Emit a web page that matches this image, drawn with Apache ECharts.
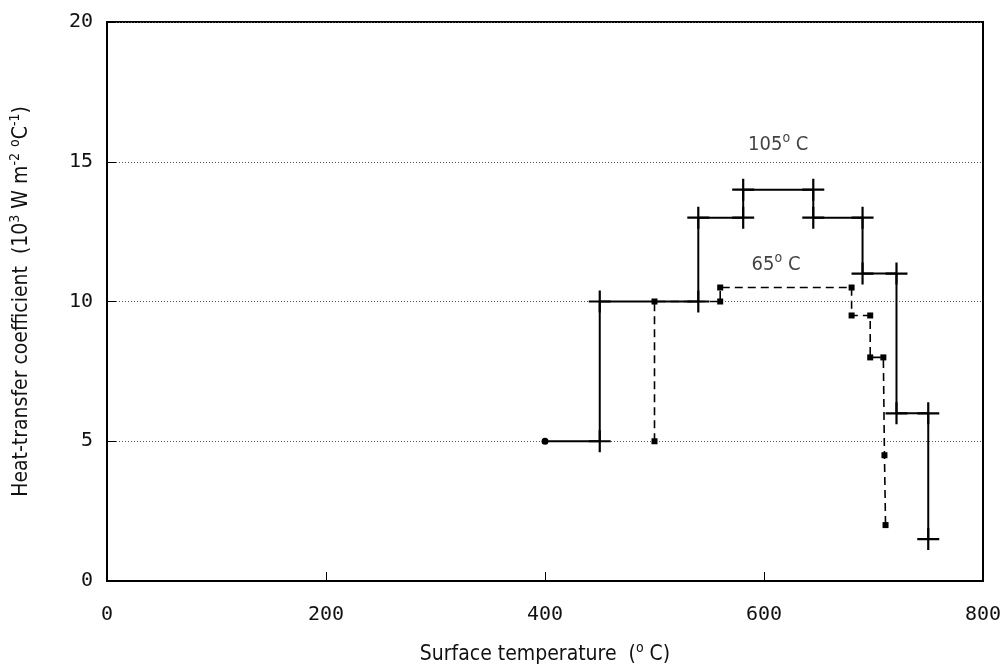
<!DOCTYPE html>
<html>
<head>
<meta charset="utf-8">
<script src="https://cdn.jsdelivr.net/npm/echarts@6/dist/echarts.min.js"></script>
<style>
  html, body { margin: 0; padding: 0; background: #fff; }
  #chart { width: 1006px; height: 670px; }
</style>
</head>
<body>
<div id="chart"></div>
<script>
// 105 C run: step curve, [surface temperature, coefficient]
const run105 = [
  [400, 5], [450, 5], [450, 10], [540, 10], [540, 13], [581, 13], [581, 14],
  [645, 14], [645, 13], [690, 13], [690, 11], [721, 11], [721, 6], [750, 6], [750, 1.5]
]
// 65 C run: dashed step curve
const run65 = [
  [500, 5], [500, 10], [560, 10], [560, 10.5], [680, 10.5], [680, 9.5],
  [697, 9.5], [697, 8], [709, 8], [710, 4.5], [711, 2]
]
const curveLabels = [
  { name: '105{o|o} C', at: [613, 15.6] },
  { name: '65{o|o} C', at: [611, 11.3] }
]
const xTicks = [0, 200, 400, 600, 800]
const yTicks = [0, 5, 10, 15, 20]

const plus = 'path://M0,4.5h10v1h-10z M4.5,0h1v10h-1z'
const tickFont = "'DejaVu Sans Mono', monospace"
const titleFont = "'Liberation Sans Narrow', 'DejaVu Sans Condensed', 'DejaVu Sans', sans-serif"
const supStyle = { fontSize: 14, padding: [0, 0, 13, 0], fontFamily: titleFont, color: '#111' }

const chart = echarts.init(document.getElementById('chart'))

chart.setOption({
  animation: false,
  grid: {
    left: 103, right: 23, top: 22, bottom: 87,
    show: true, borderColor: '#000', borderWidth: 2, backgroundColor: 'transparent'
  },
  xAxis: {
    type: 'value', min: 0, max: 800, interval: 200,
    axisLine: { show: true, lineStyle: { color: '#000', width: 2 } },
    axisTick: { show: true, inside: true, length: 9, lineStyle: { color: '#000', width: 1 } },
    axisLabel: {
      margin: 24, fontFamily: tickFont, fontSize: 20, color: '#111',
      formatter: v => xTicks.includes(v) ? String(v) : ''
    },
    splitLine: { show: false },
    name: 'Surface temperature  ({o|o} C)',
    nameLocation: 'middle', nameGap: 60,
    nameTextStyle: {
      fontFamily: titleFont, fontSize: 21, color: '#111',
      rich: { o: supStyle }
    }
  },
  yAxis: {
    type: 'value', min: 0, max: 20, interval: 5,
    axisLine: { show: true, lineStyle: { color: '#000', width: 2 } },
    axisTick: { show: true, inside: true, length: 9, lineStyle: { color: '#000', width: 1 } },
    axisLabel: {
      margin: 14, fontFamily: tickFont, fontSize: 20, color: '#111',
      formatter: v => yTicks.includes(v) ? String(v) : ''
    },
    splitLine: { show: true, lineStyle: { color: '#555', width: 1, type: [1, 2] } },
    name: 'Heat-transfer coefficient  (10{s|3} W m{s|-2} {s|o}C{s|-1})',
    nameLocation: 'middle', nameGap: 72,
    nameTextStyle: {
      fontFamily: titleFont, fontSize: 21, color: '#111',
      rich: { s: supStyle }
    }
  },
  series: [
    {
      name: '105 C',
      type: 'line',
      data: run105.map((p, i) => i === 0
        ? { value: p, symbol: 'circle', symbolSize: 7 }
        : { value: p }),
      symbol: plus,
      symbolSize: 22,
      showAllSymbol: true,
      itemStyle: { color: '#000' },
      lineStyle: { color: '#000', width: 2 },
      z: 4
    },
    {
      name: '65 C',
      type: 'line',
      data: run65,
      symbol: 'rect',
      symbolSize: 6,
      showAllSymbol: true,
      itemStyle: { color: '#000' },
      lineStyle: { color: '#000', width: 1.6, type: [8, 5] },
      z: 3
    },
    {
      type: 'scatter',
      data: curveLabels.map(d => ({ value: d.at, name: d.name })),
      symbolSize: 0,
      silent: true,
      label: {
        show: true, position: 'inside',
        formatter: p => p.name,
        fontFamily: titleFont, fontSize: 20, color: '#111',
        rich: { o: supStyle }
      },
      z: 5
    }
  ]
})
</script>
</body>
</html>
